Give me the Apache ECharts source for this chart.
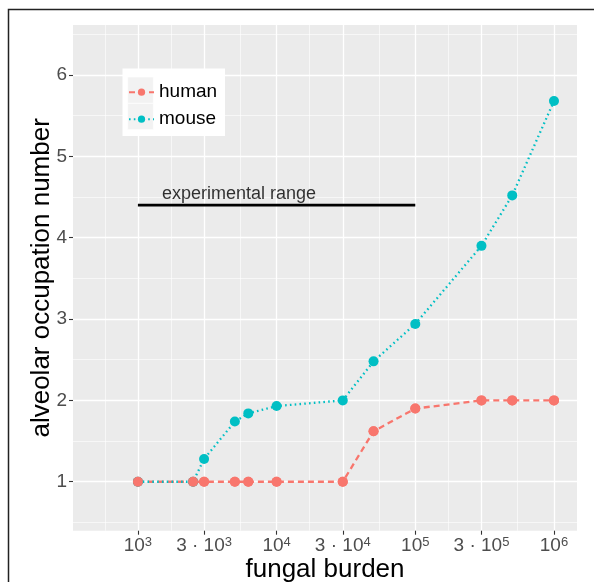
<!DOCTYPE html>
<html><head><meta charset="utf-8">
<script src="https://cdn.jsdelivr.net/npm/echarts@6/dist/echarts.min.js"></script>
<style>html,body{margin:0;padding:0;background:#fff}#c{width:594px;height:582px}</style>
</head><body><div id="c"></div><script>
// ---- data ----
const burden = [1000, 2500, 3000, 5000, 6250, 10000, 30000, 50000, 100000, 300000, 500000, 1000000];
const human = [1, 1, 1, 1, 1, 1, 1, 1.62, 1.90, 2.0, 2.0, 2.0];
const mouse = [1, 1, 1.28, 1.74, 1.84, 1.93, 2.0, 2.48, 2.94, 3.90, 4.52, 5.68];
const seriesNames = ['human', 'mouse'];
const xTickValues = [1e3, 3e3, 1e4, 3e4, 1e5, 3e5, 1e6];
const xTickLabels = ['10^3', '3 · 10^3', '10^4', '3 · 10^4', '10^5', '3 · 10^5', '10^6'];
const yTickValues = [1, 2, 3, 4, 5, 6];
const rangeBurden = [1e3, 1e5];
const rangeLevel = 4.4;
const rangeLabel = 'experimental range';
const rangeLabelAt = [5350, 4.54];
const xTitle = 'fungal burden';
const yTitle = 'alveolar occupation number';

// ---- build ----
const FONT = 'Liberation Sans';
const lg = Math.log10;
const xMajor = xTickValues.map(lg);
const ext = [xMajor[0] - (xMajor[1] - xMajor[0])].concat(xMajor);
const xMinor = [];
for (let i = 0; i < ext.length - 1; i++) xMinor.push((ext[i] + ext[i + 1]) / 2);
const yMinor = yTickValues.map(v => v - 0.5).concat([yTickValues[yTickValues.length - 1] + 0.5]);

const X_MIN = 2.532, X_MAX = 6.166, Y_MIN = 0.398, Y_MAX = 6.615;
const pts = arr => burden.map((b, i) => [lg(b), arr[i]]);

const chart = echarts.init(document.getElementById('c'), null, {renderer: 'canvas'});
chart.setOption({
  animation: false,
  backgroundColor: '#fff',
  graphic: [
    {type: 'rect', shape: {x: 8.5, y: 9.5, width: 800, height: 800}, style: {fill: null, stroke: '#222', lineWidth: 1.5}, z: 100, silent: true},
    {type: 'rect', shape: {x: 122.5, y: 68.5, width: 102.5, height: 67.5}, style: {fill: '#fff'}, z: 9, silent: true},
    {type: 'rect', shape: {x: 127.7, y: 77, width: 25.6, height: 26.2}, style: {fill: '#F2F2F2', stroke: '#fff', lineWidth: 0.6}, z: 9, silent: true},
    {type: 'rect', shape: {x: 127.7, y: 103.4, width: 25.6, height: 26.2}, style: {fill: '#F2F2F2', stroke: '#fff', lineWidth: 0.6}, z: 9, silent: true}
  ],
  grid: {left: 73, right: 17, top: 25, bottom: 51.3, show: true, backgroundColor: '#EBEBEB', borderWidth: 0, outerBoundsMode: 'none', containLabel: false},
  legend: {
    data: seriesNames, orient: 'vertical', left: 122, top: 68, z: 10,
    padding: [14.7, 8, 8, 6], itemGap: 8, itemWidth: 25, itemHeight: 9,
    textStyle: {fontFamily: FONT, fontSize: 19, color: '#000'}
  },
  xAxis: [{
    type: 'value', min: X_MIN, max: X_MAX, position: 'bottom',
    name: xTitle, nameLocation: 'middle', nameGap: 26, nameMoveOverlap: false,
    nameTextStyle: {fontFamily: FONT, fontSize: 26, color: '#000'},
    axisLine: {show: false},
    axisTick: {show: true, length: 4, customValues: xMajor, lineStyle: {color: '#333', width: 1.1}},
    axisLabel: {
      customValues: xMajor, margin: 5, color: '#4D4D4D',
      formatter: v => {
        const i = xMajor.findIndex(m => Math.abs(m - v) < 1e-4);
        if (i < 0) return '';
        const p = xTickLabels[i].split('^');
        return '{b|' + p[0] + '}{s|' + p[1] + '}';
      },
      rich: {
        b: {fontFamily: FONT, fontSize: 19, color: '#4D4D4D', verticalAlign: 'bottom', lineHeight: 20},
        s: {fontFamily: FONT, fontSize: 13, color: '#4D4D4D', verticalAlign: 'top'}
      }
    },
    splitLine: {show: true, lineStyle: {color: '#fff', width: 1.3}}
  }, {
    type: 'value', min: X_MIN, max: X_MAX, position: 'top',
    axisLine: {show: false}, axisLabel: {show: false},
    axisTick: {show: false, customValues: xMinor},
    splitLine: {show: true, lineStyle: {color: '#fff', width: 0.6}}
  }],
  yAxis: [{
    type: 'value', min: Y_MIN, max: Y_MAX,
    name: yTitle, nameLocation: 'middle', nameGap: 18, nameMoveOverlap: false,
    nameTextStyle: {fontFamily: FONT, fontSize: 26, color: '#000'},
    axisLine: {show: false},
    axisTick: {show: true, length: 4, customValues: yTickValues, lineStyle: {color: '#333', width: 1.1}},
    axisLabel: {customValues: yTickValues, margin: 6, fontFamily: FONT, fontSize: 19, color: '#4D4D4D'},
    splitLine: {show: true, lineStyle: {color: '#fff', width: 1.3}}
  }, {
    type: 'value', min: Y_MIN, max: Y_MAX, position: 'right',
    axisLine: {show: false}, axisLabel: {show: false},
    axisTick: {show: false, customValues: yMinor},
    splitLine: {show: true, lineStyle: {color: '#fff', width: 0.6}}
  }],
  series: [
    {
      name: 'range', type: 'line', data: rangeBurden.map(b => [lg(b), rangeLevel]),
      symbol: 'none', lineStyle: {color: '#000', width: 2.7}, z: 2, silent: true
    },
    {
      name: 'rangeLabel', type: 'scatter', data: [[lg(rangeLabelAt[0]), rangeLabelAt[1]]],
      symbolSize: 0, silent: true, z: 2,
      label: {show: true, position: 'inside', formatter: rangeLabel, fontFamily: FONT, fontSize: 18, color: '#000'}
    },
    {
      name: seriesNames[0], type: 'line', data: pts(human), z: 3,
      symbol: 'circle', symbolSize: 10, showSymbol: true,
      itemStyle: {color: '#F8766D', borderWidth: 0},
      lineStyle: {color: '#F8766D', width: 2.3, type: [6, 4]}
    },
    {
      name: seriesNames[1], type: 'line', data: pts(mouse), z: 4,
      symbol: 'circle', symbolSize: 10, showSymbol: true,
      itemStyle: {color: '#00BFC4', borderWidth: 0},
      lineStyle: {color: '#00BFC4', width: 2.3, type: [1.6, 3.2]}
    },
    {
      name: 'human points', type: 'scatter', data: pts(human), z: 5,
      symbol: 'circle', symbolSize: 10, itemStyle: {color: '#F8766D', opacity: 1}
    }
  ]
});
</script></body></html>
